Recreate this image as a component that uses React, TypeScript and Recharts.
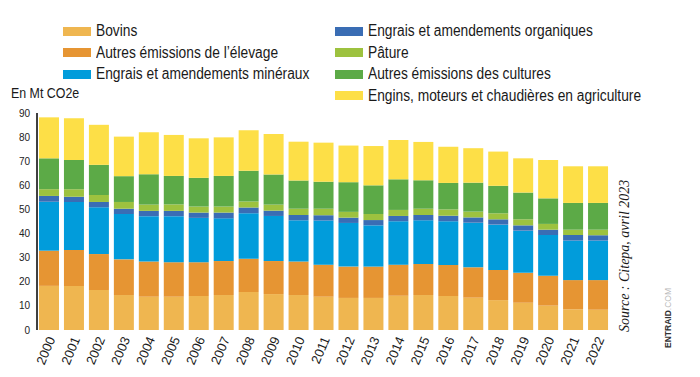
import { Bar, BarChart, XAxis, YAxis } from 'recharts'

const YEARS = [
  '2000', '2001', '2002', '2003', '2004', '2005', '2006', '2007', '2008', '2009', '2010', '2011',
  '2012', '2013', '2014', '2015', '2016', '2017', '2018', '2019', '2020', '2021', '2022',
]

const BOVINS = [18.3, 18.3, 16.6, 14.5, 13.8, 13.8, 14.1, 14.5, 15.8, 14.9, 14.5, 13.8, 13.3, 13.3, 14.2, 14.5, 14.1, 13.4, 12.4, 11.3, 10.1, 8.6, 8.4]
const ELEVAGE = [14.6, 14.9, 14.9, 14.8, 14.6, 14.3, 14.0, 14.1, 13.7, 13.7, 13.9, 13.3, 13.0, 13.0, 12.9, 12.9, 12.9, 12.6, 12.5, 12.4, 12.4, 12.1, 12.3]
const MINERAUX = [20.3, 19.9, 19.4, 18.8, 18.8, 19.1, 18.4, 17.7, 18.9, 18.7, 17.1, 18.3, 18.1, 17.1, 18.0, 18.1, 18.1, 18.5, 18.8, 17.5, 16.9, 16.4, 16.4]
const ORGANIQUES = [2.4, 2.2, 2.2, 2.2, 2.2, 2.2, 2.2, 2.4, 2.4, 2.2, 2.2, 2.2, 2.2, 2.2, 2.2, 2.2, 2.3, 2.2, 2.2, 2.2, 2.2, 2.3, 2.2]
const PATURE = [2.8, 3.1, 2.9, 2.8, 2.6, 2.7, 2.5, 2.5, 2.5, 2.5, 2.6, 2.7, 2.4, 2.5, 2.5, 2.6, 2.6, 2.4, 2.5, 2.5, 2.4, 2.2, 2.3]
const CULTURES = [12.8, 12.1, 12.5, 10.7, 12.6, 11.8, 11.9, 12.7, 12.8, 12.5, 11.7, 11.2, 12.3, 11.9, 12.7, 11.8, 11.0, 12.0, 11.4, 11.1, 10.6, 11.1, 11.1]
const ENGINS = [17.0, 17.3, 16.6, 16.4, 17.4, 17.0, 16.4, 16.0, 16.7, 16.8, 16.1, 16.2, 15.2, 16.3, 16.3, 15.9, 15.0, 14.3, 14.2, 14.2, 15.9, 15.2, 15.2]

const Y_TICKS = [0, 10, 20, 30, 40, 50, 60, 70, 80, 90]

const SERIES = [
  { key: 'bovins', name: 'Bovins', color: '#EFB650', values: BOVINS },
  { key: 'elevage', name: 'Autres émissions de l’élevage', color: '#E69533', values: ELEVAGE },
  { key: 'mineraux', name: 'Engrais et amendements minéraux', color: '#019CDB', values: MINERAUX },
  { key: 'organiques', name: 'Engrais et amendements organiques', color: '#3A6DB4', values: ORGANIQUES },
  { key: 'pature', name: 'Pâture', color: '#9DC23F', values: PATURE },
  { key: 'cultures', name: 'Autres émissions des cultures', color: '#5CAA47', values: CULTURES },
  { key: 'engins', name: 'Engins, moteurs et chaudières en agriculture', color: '#FDDF47', values: ENGINS },
]

const data = YEARS.map((year, i) => {
  const row: Record<string, string | number> = { year }
  SERIES.forEach((s) => {
    row[s.key] = s.values[i]
  })
  return row
})

const FONT = '"Liberation Sans", Arial, sans-serif'

// legend: left column first three series, right column the rest
const LEFT_LEGEND = SERIES.slice(0, 3)
const RIGHT_LEGEND = SERIES.slice(3)

function YearTick({ x, y, payload }: { x?: number; y?: number; payload?: { value: string } }) {
  const tx = (x ?? 0) + 6
  const ty = (y ?? 0) + 7
  return (
    <text
      x={tx}
      y={ty}
      transform={`rotate(-67, ${tx}, ${ty})`}
      textAnchor="end"
      fontFamily={FONT}
      fontSize={13}
      fill="#1a1a1a"
    >
      {payload?.value}
    </text>
  )
}

// the original uses a condensed face, so squeeze the regular one
const narrow = { display: 'inline-block', transform: 'scaleX(0.86)', transformOrigin: 'left center' }

function LegendRow({ item, top, left }: { item: (typeof SERIES)[number]; top: number; left: number }) {
  return (
    <div style={{ position: 'absolute', left, top, display: 'flex', alignItems: 'center', height: 18 }}>
      <span style={{ width: 28, height: 9, background: item.color, display: 'inline-block', marginRight: 5 }} />
      <span style={{ ...narrow, fontFamily: FONT, fontSize: 16, color: '#1a1a1a', whiteSpace: 'nowrap' }}>{item.name}</span>
    </div>
  )
}

export default function App() {
  return (
    <div style={{ position: 'absolute', left: 0, top: 0, width: 700, height: 377, background: '#fff' }}>
      {LEFT_LEGEND.map((item, i) => (
        <LegendRow key={item.key} item={item} left={63} top={22 + i * 21.5} />
      ))}
      {RIGHT_LEGEND.map((item, i) => (
        <LegendRow key={item.key} item={item} left={335} top={22 + i * 21.5} />
      ))}
      <div style={{ position: 'absolute', left: 11, top: 84, whiteSpace: 'nowrap' }}>
        <span style={{ ...narrow, transform: 'scaleX(0.8)', fontFamily: FONT, fontSize: 15.5, color: '#1a1a1a' }}>En Mt CO2e</span>
      </div>

      <BarChart
        width={700}
        height={377}
        data={data}
        margin={{ top: 113, right: 89, bottom: 0, left: 0 }}
        barSize={20}
      >
        <XAxis dataKey="year" interval={0} axisLine={false} tickLine={false} tickSize={0} tick={<YearTick />} height={47} />
        <YAxis
          width={37}
          domain={[0, 90]}
          ticks={Y_TICKS}
          interval={0}
          tickLine={false}
          tickSize={5}
          tick={{ fontSize: 10, fill: '#222', fontFamily: FONT }}
          axisLine={{ stroke: '#000', strokeWidth: 1.5 }}
        />
        {SERIES.map((s) => (
          <Bar key={s.key} dataKey={s.key} name={s.name} stackId="a" fill={s.color} isAnimationActive={false} />
        ))}
      </BarChart>

      <svg width={700} height={377} style={{ position: 'absolute', left: 0, top: 0, pointerEvents: 'none' }}>
        <text
          x={629}
          y={332}
          transform="rotate(-90, 629, 332)"
          fontFamily='"Liberation Serif", "Times New Roman", serif'
          fontStyle="italic"
          fontSize={14}
          fill="#1a1a1a"
        >
          Source : Citepa, avril 2023
        </text>
        <text
          x={671}
          y={348}
          transform="rotate(-90, 671, 348)"
          fontFamily={FONT}
          fontSize={8.5}
        >
          <tspan fontWeight="bold" fill="#333">ENTRAID</tspan>
          <tspan fill="#bbb">.COM</tspan>
        </text>
      </svg>
    </div>
  )
}
